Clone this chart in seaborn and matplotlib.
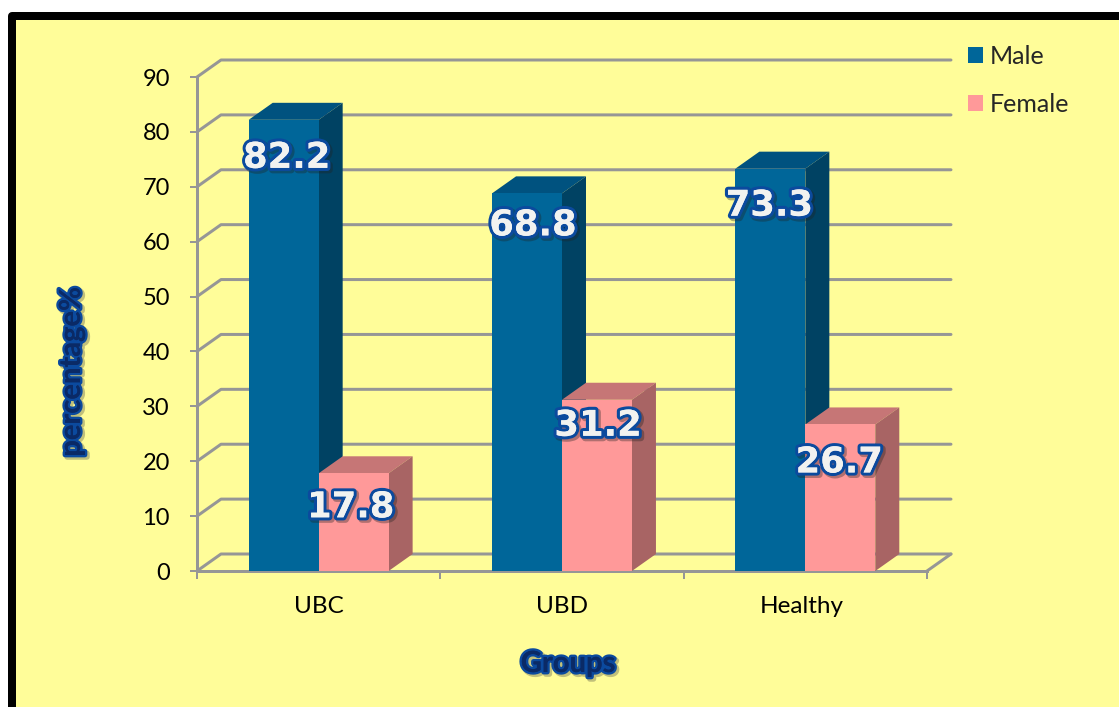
import matplotlib
matplotlib.use("Agg")
import matplotlib.pyplot as plt
import matplotlib.patheffects as pe
from matplotlib.patches import Rectangle, Polygon
from matplotlib.transforms import Affine2D
import pandas as pd
import seaborn as sns

# ---- data ----
groups = ["UBC", "UBD", "Healthy"]
male = [82.2, 68.8, 73.3]
female = [17.8, 31.2, 26.7]
y_ticks = list(range(0, 100, 10))

# ---- styling ----
W, H = 1119, 707
PX = 72 / 100
BG = "#FFFD99"
GRID = "#969696"
FACE = {"Male": "#006699", "Female": "#FF9999"}
TOP = {"Male": "#00527F", "Female": "#C67676"}
SIDE = {"Male": "#004263", "Female": "#A86464"}
DEPTH = (24, 17)
label_nudge = {"Male": [(3, -38), (6, -32), (-1, -37)],
               "Female": [(-3, -34), (1, -26), (-1, -38)]}

sns.set_theme(style="white")
plt.rcParams["font.family"] = ["Lato", "DejaVu Sans"]

fig = plt.figure(figsize=(W / 100, H / 100), dpi=100, facecolor="white")
fig.add_artist(Rectangle((12 / W, -20 / H), (W + 20) / W, (H + 20 - 15.5) / H,
                         transform=fig.transFigure, facecolor=BG, edgecolor="black",
                         linewidth=8 * PX, joinstyle="round", zorder=-5))

ax = fig.add_axes([197 / W, (H - 571) / H, (927 - 197) / W, (571 - 77) / H])
ax.patch.set_alpha(0)

df = pd.DataFrame({
    "group": groups * 2,
    "sex": ["Male"] * len(groups) + ["Female"] * len(groups),
    "pct": male + female,
})
sns.barplot(data=df, x="group", y="pct", hue="sex", hue_order=["Male", "Female"],
            palette=FACE, width=0.575, gap=0, saturation=1, linewidth=0,
            ax=ax, legend=True)
ax.set_xlim(-0.5, len(groups) - 0.5)
ax.set_ylim(0, 90)

x0, x1 = ax.get_xlim()


def to_px(x, y):
    return ax.transData.transform((x, y))


# walls: gridlines run from the front axis to the back plane, then across
for v in y_ticks:
    a = to_px(x0, v)
    b = a + DEPTH
    c = to_px(x1, v) + DEPTH
    ax.plot([a[0], b[0], c[0]], [a[1], b[1], c[1]], transform=None, color=GRID,
            lw=3 * PX, solid_capstyle="round", solid_joinstyle="round",
            zorder=1, clip_on=False)
f = to_px(x1, 0)
ax.plot([f[0], f[0] + DEPTH[0]], [f[1], f[1] + DEPTH[1]], transform=None, color=GRID,
        lw=3 * PX, zorder=1, clip_on=False)

# bars: 3-D top and side faces derived from the seaborn bars
for z, (cont, name) in enumerate(zip(ax.containers, ["Male", "Female"])):
    for i, bar in enumerate(cont):
        bar.set_zorder(3 + z + 0.2)
        bar.set_clip_on(False)
        l, r, t = bar.get_x(), bar.get_x() + bar.get_width(), bar.get_height()
        ll, rt, rb = to_px(l, t), to_px(r, t), to_px(r, 0)
        d = DEPTH
        top = [ll, rt, rt + d, ll + d]
        side = [rb, rt, rt + d, rb + d]
        ax.add_patch(Polygon(top, closed=True, transform=None, fc=TOP[name], ec="none",
                             zorder=3 + z, clip_on=False))
        ax.add_patch(Polygon(side, closed=True, transform=None, fc=SIDE[name], ec="none",
                             zorder=3 + z, clip_on=False))
        nx, ny = label_nudge[name][i]
        ax.annotate(f"{t:.1f}", xy=((l + r) / 2, t), xytext=(nx, ny),
                    textcoords="offset pixels", ha="center", va="center",
                    family="DejaVu Sans", weight="bold", fontsize=25.5, color="#F2F2F0",
                    zorder=10,
                    path_effects=[
                        pe.SimpleLineShadow(offset=(1.5, -1.5), shadow_color="#222222",
                                            alpha=0.35, linewidth=5),
                        pe.withStroke(linewidth=4.5, foreground="#0B4A9E"),
                        pe.Normal(),
                    ])

# axes
for s in ["top", "right"]:
    ax.spines[s].set_visible(False)
for s in ["left", "bottom"]:
    ax.spines[s].set_color(GRID)
    ax.spines[s].set_linewidth(3 * PX)
    ax.spines[s].set_zorder(2)
ax.set_yticks(y_ticks)
ax.set_xticks([i - 0.5 for i in range(len(groups) + 1)], minor=True)
ax.tick_params(axis="y", length=7 * PX, width=2 * PX, color=GRID, pad=20 * PX,
               labelsize=17, labelcolor="black", left=True)
ax.tick_params(axis="x", which="major", length=0, pad=25 * PX, labelsize=17.5, labelcolor="black")
ax.tick_params(axis="x", which="minor", length=8 * PX, width=2 * PX, color=GRID, bottom=True)
healthy = ax.get_xticklabels()[2]
healthy.set_transform(healthy.get_transform() + Affine2D().translate(-4, 0))

title_fx = [pe.SimpleLineShadow(offset=(1.5, -1.5), shadow_color="#333333", alpha=0.3, linewidth=4),
            pe.withStroke(linewidth=3.5, foreground="#0B4A9E"), pe.Normal()]
ax.set_xlabel("Groups", fontsize=21, weight="bold", color="#0A2A66", path_effects=title_fx)
ax.set_ylabel("percentage%", fontsize=21, weight="bold", color="#0A2A66", path_effects=title_fx)
ax.xaxis.set_label_coords(568 / W, (H - 664) / H, transform=fig.transFigure)
ax.yaxis.set_label_coords(72 / W, (H - 372) / H, transform=fig.transFigure)
ax.xaxis.label.set_va("center")
ax.yaxis.label.set_va("center")

# legend
sns.move_legend(ax, "upper left", bbox_to_anchor=(963 / W, (H - 40) / H),
                bbox_transform=fig.transFigure, title=None, frameon=False,
                fontsize=18, handlelength=0.6, handleheight=0.6,
                labelspacing=1.0, handletextpad=0.27, borderpad=0.2, borderaxespad=0)

fig.savefig("out.png", dpi=100, facecolor="white")
